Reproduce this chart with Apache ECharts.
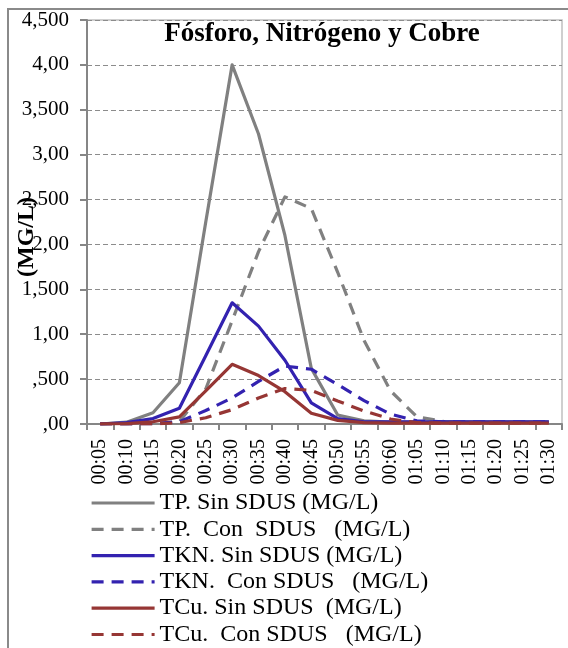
<!DOCTYPE html>
<html>
<head>
<meta charset="utf-8">
<script src="https://cdn.jsdelivr.net/npm/echarts@6/dist/echarts.min.js"></script>
<style>
html,body{margin:0;padding:0;background:#fff;}
#chart{width:568px;height:648px;}
</style>
</head>
<body>
<div id="chart"></div>
<script>
var categories = ['00:05','00:10','00:15','00:20','00:25','00:30','00:35','00:40','00:45','00:50','00:55','00:60','01:05','01:10','01:15','01:20','01:25','01:30'];
var yTickLabels = [',00', ',500', '1,00', '1,500', '2,00', '2,500', '3,00', '3,500', '4,00', '4,500'];
var tpSin  = [0, 20, 125, 460, 2250, 4000, 3230, 2100, 620, 100, 35, 20, 20, 20, 20, 20, 20, 20];
var tpCon  = [0, 0, 5, 28, 390, 1150, 1920, 2530, 2400, 1690, 930, 370, 80, 30, 20, 20, 20, 20];
var tknSin = [0, 15, 60, 175, 760, 1350, 1090, 710, 235, 60, 25, 25, 25, 25, 25, 25, 25, 25];
var tknCon = [0, 0, 5, 25, 150, 290, 475, 645, 610, 440, 260, 110, 35, 25, 25, 25, 25, 25];
var tcuSin = [0, 5, 25, 80, 370, 665, 540, 360, 120, 40, 15, 10, 10, 10, 10, 10, 10, 10];
var tcuCon = [0, 0, 0, 15, 70, 160, 290, 395, 375, 256, 145, 56, 15, 10, 10, 10, 10, 10];
var seriesNames = ['TP. Sin SDUS (MG/L)', 'TP.  Con  SDUS   (MG/L)', 'TKN. Sin SDUS (MG/L)', 'TKN.  Con SDUS   (MG/L)', 'TCu. Sin SDUS  (MG/L)', 'TCu.  Con SDUS   (MG/L)'];
var titleText = 'Fósforo, Nitrógeno y Cobre';
var yAxisTitle = '(MG/L)';

var FONT = 'Liberation Serif';
var GRAY = '#808080', BLUE = '#3322b0', RED = '#963634';
var dash = [12, 8];

function mk(name, data, color, dashed) {
  return {
    name: name, type: 'line', data: data, symbol: 'none', showSymbol: false,
    lineStyle: { color: color, width: 3.2, type: dashed ? dash : 'solid', cap: 'butt', join: 'round' },
    itemStyle: { color: color },
    emphasis: { disabled: true },
    animation: false
  };
}

var chart = echarts.init(document.getElementById('chart'), null, { renderer: 'canvas' });
chart.setOption({
  animation: false,
  backgroundColor: '#ffffff',
  grid: { left: 87, right: 6, top: 20, bottom: 224, show: true, borderColor: '#c0c0c0', borderWidth: 1.5, backgroundColor: 'transparent' },
  xAxis: {
    type: 'category', data: categories, boundaryGap: true,
    axisLine: { lineStyle: { color: '#868686', width: 2 } },
    axisTick: { show: true, length: 6, lineStyle: { color: '#868686', width: 2 } },
    axisLabel: { rotate: 90, interval: 0, margin: 15, fontFamily: FONT, fontSize: 20, color: '#000' },
    splitLine: { show: false }
  },
  yAxis: {
    type: 'value', min: 0, max: 4500, interval: 500,
    axisLine: { show: true, lineStyle: { color: '#868686', width: 2 } },
    axisTick: { show: true, length: 7, lineStyle: { color: '#868686', width: 2 } },
    axisLabel: { margin: 18, fontFamily: FONT, fontSize: 21, color: '#000',
      formatter: function (v) { return yTickLabels[Math.round(v / 500)]; } },
    splitLine: { show: true, lineStyle: { color: '#8c8c8c', width: 1, type: [5, 3] } }
  },
  legend: {
    orient: 'vertical', left: 90, top: 491, width: 460, height: 200, padding: 0, itemGap: 2.3,
    itemWidth: 63, itemHeight: 14,
    itemStyle: { opacity: 0 },
    lineStyle: { width: 3.2 },
    textStyle: { fontFamily: FONT, fontSize: 24, color: '#000' },
    data: seriesNames
  },
  graphic: [
    { type: 'rect', silent: true, z: -1, shape: { x: 8, y: 9, width: 700, height: 700 },
      style: { fill: 'none', stroke: '#8a8a8a', lineWidth: 2 } },
    { type: 'text', silent: true, x: 322, y: 34,
      style: { text: titleText, font: 'bold 27px "Liberation Serif"', fill: '#000', textAlign: 'center', textVerticalAlign: 'middle' } },
    { type: 'text', silent: true, x: 27, y: 237, rotation: Math.PI / 2,
      style: { text: yAxisTitle, font: 'bold 24px "Liberation Serif"', fill: '#000', textAlign: 'center', textVerticalAlign: 'middle' } }
  ],
  series: [
    mk(seriesNames[0], tpSin, GRAY, false),
    mk(seriesNames[1], tpCon, GRAY, true),
    mk(seriesNames[2], tknSin, BLUE, false),
    mk(seriesNames[3], tknCon, BLUE, true),
    mk(seriesNames[4], tcuSin, RED, false),
    mk(seriesNames[5], tcuCon, RED, true)
  ]
});
</script>
</body>
</html>
